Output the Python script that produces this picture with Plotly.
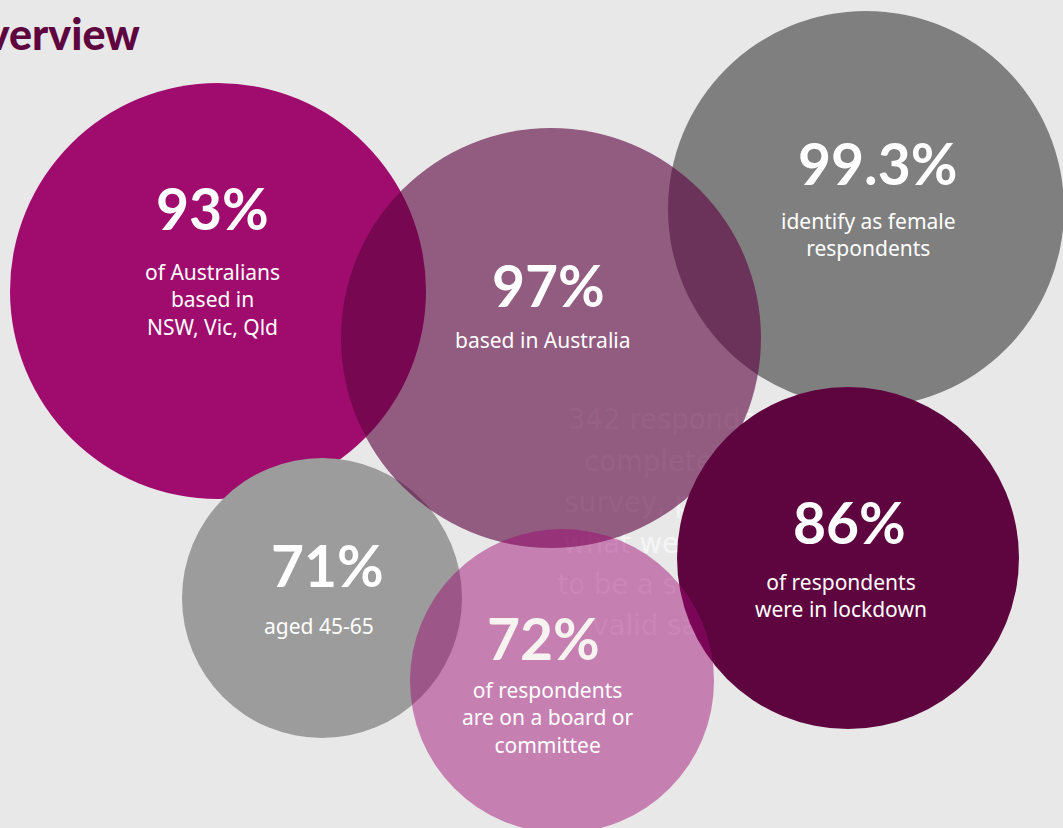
import plotly.graph_objects as go

# ---- data -------------------------------------------------------------
values = [93, 97, 99.3, 71, 72, 86]
captions = [
    "of Australians<br>based in<br>NSW, Vic, Qld",
    "based in Australia",
    "identify as female<br>respondents",
    "aged 45-65",
    "of respondents<br>are on a board or<br>committee",
    "of respondents<br>were in lockdown",
]
note_lines = [
    "342 respondents",
    "completed the",
    "survey, providing",
    "what we consider",
    "to be a strong and",
    "valid sample.",
]
title_text = "Overview"

# ---- layout (pixel space, y grows downward) ---------------------------
W, H = 1063, 828
cx = [218, 551, 866, 322, 562, 848]
cy = [291, 338, 209, 598, 681, 558]
radius = [208, 210, 198, 140, 152, 171]
fills = [
    "#A00C6D",
    "rgba(94,5,64,0.62)",
    "#807F80",
    "#9C9C9C",
    "rgba(158,8,112,0.47)",
    "#5E0540",
]
# drawing order, bottom to top
order = [0, 2, 3, 1, 5, 4]

num_pos = [(212, 208), (548, 285), (877, 163), (327, 565), (543, 638), (849, 522)]
# centre of each caption block
cap_pos = [(212, 299), (543, 340), (868, 234), (319, 626), (547, 717), (841, 595)]
num_color = ["white", "white", "white", "white", "#F6F3F0", "white"]

BG = "#E8E8E8"
PLUM = "#5E0540"

fig = go.Figure()

# faint note text that sits behind the circles
note_y = [422, 464, 505, 546, 587, 628]
fig.add_trace(go.Scatter(
    x=[684] * len(note_lines), y=note_y, text=note_lines, mode="text",
    textposition="middle center",
    textfont=dict(family="DejaVu Sans", size=27.5, color="#F5F5F5"),
    hoverinfo="skip", showlegend=False,
))

shapes = []
for i in order:
    shapes.append(dict(
        type="circle", xref="x", yref="y", layer="above",
        x0=cx[i] - radius[i], x1=cx[i] + radius[i],
        y0=cy[i] - radius[i], y1=cy[i] + radius[i],
        fillcolor=fills[i], line=dict(width=0),
    ))

annotations = []
for i, v in enumerate(values):
    annotations.append(dict(
        x=num_pos[i][0], y=num_pos[i][1], xref="x", yref="y",
        text=f"{v}%", showarrow=False, xanchor="center", yanchor="middle",
        font=dict(family="Lato", size=57, color=num_color[i], weight=700),
    ))
    annotations.append(dict(
        x=cap_pos[i][0], y=cap_pos[i][1], xref="x", yref="y",
        text=captions[i], showarrow=False, xanchor="center", yanchor="middle",
        font=dict(family="Noto Sans", size=21, color="white"),
    ))

annotations.append(dict(
    x=142, y=33, xref="x", yref="y", text=title_text, showarrow=False,
    xanchor="right", yanchor="middle",
    font=dict(family="Lato", size=43, color=PLUM, weight=900),
))

fig.update_layout(
    width=W, height=H, autosize=False,
    margin=dict(l=0, r=0, t=0, b=0),
    paper_bgcolor=BG, plot_bgcolor=BG,
    xaxis=dict(range=[0, W], visible=False, fixedrange=True),
    yaxis=dict(range=[H, 0], visible=False, fixedrange=True),
    shapes=shapes, annotations=annotations,
    showlegend=False,
)

fig.write_html("out.html")
